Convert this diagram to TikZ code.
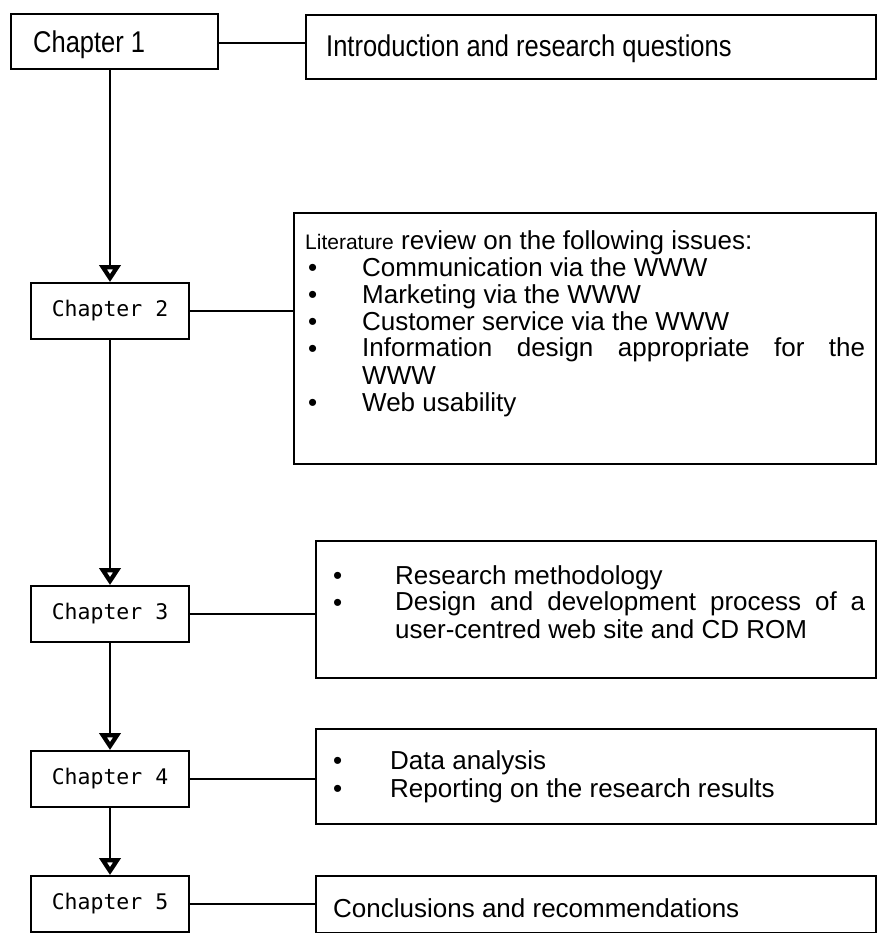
\documentclass[tikz,border=0pt]{standalone}
\usepackage{fontspec}
\setmainfont{Liberation Sans}
\newfontfamily\narrowfont{Liberation Sans}[FakeStretch=0.85]
\newfontfamily\chapfont{DejaVu Sans Mono}
\usetikzlibrary{arrows.meta}

\newcommand{\bodysize}{\fontsize{26}{27.2}\selectfont}

\tikzset{
  chapbox/.style={draw, line width=2pt, minimum width=158pt, minimum height=56pt,
    inner sep=0pt, anchor=north west, font=\chapfont\fontsize{21.5}{22}\selectfont},
  infobox/.style={draw, line width=2pt, inner sep=0pt, anchor=north west},
  item/.style={anchor=base west, inner sep=0pt, align=left, font=\bodysize},
  dot/.style={anchor=base west, inner sep=0pt, font=\bodysize},
  link/.style={line width=1.8pt},
  flow/.style={line width=1.8pt, -{Triangle[open, width=21pt, length=17pt, line width=4.5pt]}},
}

\begin{document}
\begin{tikzpicture}[x=1pt, y=-1pt]
  \useasboundingbox (0,0) rectangle (877,933);

  % chapitres
  \node[draw, line width=2pt, anchor=north west, minimum width=207pt, minimum height=55pt,
    inner sep=0pt] (c1) at (10,13) {};
  \node[anchor=base west, inner sep=0pt, font=\narrowfont\fontsize{30}{30}\selectfont]
    (c1t) at (33,53) {Chapter 1};
  \node[chapbox] (c2) at (30,282) {Chapter 2};
  \node[chapbox] (c3) at (30,585) {Chapter 3};
  \node[chapbox] (c4) at (30,750) {Chapter 4};
  \node[chapbox] (c5) at (30,875) {Chapter 5};

  % contenus
  \node[infobox, minimum width=570pt, minimum height=64pt] (intro) at (305,14) {};
  \node[anchor=base west, inner sep=0pt, font=\narrowfont\fontsize{30}{30}\selectfont]
    (introt) at (326,57) {Introduction and research questions};
  \node[infobox, minimum width=582pt, minimum height=251pt] (lit) at (293,212) {};
  \node[infobox, minimum width=560pt, minimum height=137pt] (meth) at (315,540) {};
  \node[infobox, minimum width=560pt, minimum height=95pt] (data) at (315,728) {};
  \node[infobox, minimum width=560pt, minimum height=57pt] (concl) at (315,875) {};

  \node[item] (lit0) at (305,249) {{\fontsize{21}{24}\selectfont Literature} review on the following issues:};
  \foreach \y in {276,303,330,357,411}
    \node[dot] at (308,\y) {\textbullet};
  \node[item] (lit1) at (362,276) {Communication via the WWW};
  \node[item] (lit2) at (362,303) {Marketing via the WWW};
  \node[item] (lit3) at (362,330) {Customer service via the WWW};
  % la base d'un texte sur deux lignes est celle de la derniere ligne
  \node[item] (lit4) at (362,384) {\makebox[503pt][s]{Information design appropriate for the}\\WWW};
  \node[item] (lit5) at (362,411) {Web usability};

  \foreach \y in {584,611}
    \node[dot] at (333,\y) {\textbullet};
  \node[item] (meth1) at (395,584) {Research methodology};
  \node[item] (meth2) at (395,638) {\makebox[470pt][s]{Design and development process of a}\\user-centred web site and CD ROM};

  \foreach \y in {769,797}
    \node[dot] at (333,\y) {\textbullet};
  \node[item] (data1) at (390,769) {Data analysis};
  \node[item] (data2) at (390,797) {Reporting on the research results};

  \node[item] (concl1) at (333,917) {Conclusions and recommendations};

  % liaisons
  \draw[link] (c1.east |- 0,43) -- (intro.west |- 0,43);
  \draw[link] (c2.east) -- (c2.east -| lit.west);
  \draw[link] (c3.east) -- (c3.east -| meth.west);
  \draw[link] (c4.east) -- (c4.east -| data.west);
  \draw[link] (c5.east) -- (c5.east -| concl.west);

  \draw[flow] (c1.south -| c2.north) -- (c2.north);
  \draw[flow] (c2.south) -- (c3.north);
  \draw[flow] (c3.south) -- (c4.north);
  \draw[flow] (c4.south) -- (c5.north);
\end{tikzpicture}
\end{document}
